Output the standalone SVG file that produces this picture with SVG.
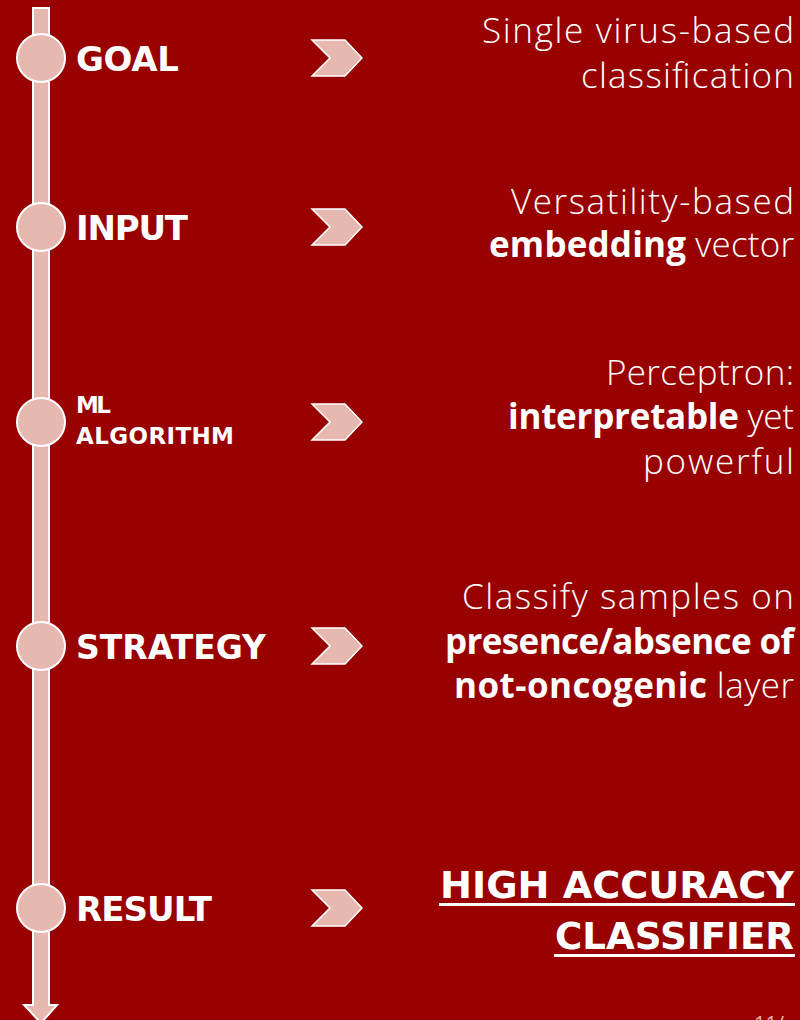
<svg xmlns="http://www.w3.org/2000/svg" width="800" height="1020" viewBox="0 0 800 1020">
  <style>
    .bg { fill: #990000; }
    .pink { fill: #E6B8B0; stroke: #FFFFFF; stroke-width: 2; }
    .chev { fill: #E6B8B0; stroke: #FFFFFF; stroke-width: 1.5; stroke-linejoin: miter; }
    .lbl { font-family: "DejaVu Sans", "Liberation Sans", sans-serif; font-weight: 700; fill: #FFFFFF; font-size: 34px; }
    .lbl-sm { font-family: "DejaVu Sans", "Liberation Sans", sans-serif; font-weight: 700; fill: #FFFFFF; font-size: 23px; }
    .desc { font-family: "Open Sans", "Liberation Sans", sans-serif; font-weight: 300; fill: #FFFFFF; font-size: 35px; text-anchor: end; }
    .b { font-weight: 700; }
    .res { font-family: "DejaVu Sans", "Liberation Sans", sans-serif; font-weight: 700; fill: #FFFFFF; font-size: 38px; text-anchor: end; }
    .ul { fill: #FFFFFF; }
    .pg { font-family: "Open Sans", "Liberation Sans", sans-serif; fill: #E6B8B0; font-size: 20px; }
  </style>
  <defs>
    <path id="chevron" d="M0,-18 H33 L50,0 L33,18 H0 L18,0 Z"/>
  </defs>
  <rect class="bg" x="0" y="0" width="800" height="1020"/>

  <g id="connectors">
    <path class="pink" d="M33,8 H49 V1005 H57 L41,1023 L24,1005 H33 Z"/>
  </g>

  <g id="node-goal">
    <circle class="pink" cx="41" cy="58" r="24"/>
    <text class="lbl" x="76" y="71" textLength="103" lengthAdjust="spacing">GOAL</text>
    <use href="#chevron" class="chev" x="312" y="58"/>
    <text class="desc" x="794" y="43" textLength="312" lengthAdjust="spacing">Single virus-based</text>
    <text class="desc" x="794" y="88" textLength="213" lengthAdjust="spacing">classification</text>
  </g>

  <g id="node-input">
    <circle class="pink" cx="41" cy="227" r="24"/>
    <text class="lbl" x="76" y="240" textLength="112" lengthAdjust="spacing">INPUT</text>
    <use href="#chevron" class="chev" x="312" y="227"/>
    <text class="desc" x="794" y="214" textLength="283" lengthAdjust="spacing">Versatility-based</text>
    <text class="desc" x="794" y="257" textLength="305" lengthAdjust="spacing"><tspan class="b">embedding</tspan> vector</text>
  </g>

  <g id="node-ml">
    <circle class="pink" cx="41" cy="422" r="24"/>
    <text class="lbl-sm" x="76" y="413" textLength="35" lengthAdjust="spacing">ML</text>
    <text class="lbl-sm" x="76" y="444" textLength="158" lengthAdjust="spacing">ALGORITHM</text>
    <use href="#chevron" class="chev" x="312" y="422"/>
    <text class="desc" x="794" y="385" textLength="188" lengthAdjust="spacing">Perceptron:</text>
    <text class="desc" x="794" y="429" textLength="286" lengthAdjust="spacing"><tspan class="b">interpretable</tspan> yet</text>
    <text class="desc" x="794" y="474" textLength="151" lengthAdjust="spacing">powerful</text>
  </g>

  <g id="node-strategy">
    <circle class="pink" cx="41" cy="646" r="24"/>
    <text class="lbl" x="76" y="659" textLength="190" lengthAdjust="spacingAndGlyphs">STRATEGY</text>
    <use href="#chevron" class="chev" x="312" y="646"/>
    <text class="desc" x="794" y="609" textLength="332" lengthAdjust="spacing">Classify samples on</text>
    <text class="desc b" x="794" y="654" textLength="349" lengthAdjust="spacing">presence/absence of</text>
    <text class="desc" x="794" y="698" textLength="340" lengthAdjust="spacing"><tspan class="b">not-oncogenic</tspan> layer</text>
  </g>

  <g id="node-result">
    <circle class="pink" cx="41" cy="908" r="24"/>
    <text class="lbl" x="76" y="921" textLength="136" lengthAdjust="spacing">RESULT</text>
    <use href="#chevron" class="chev" x="312" y="908"/>
    <text class="res" x="794" y="898" textLength="354" lengthAdjust="spacingAndGlyphs">HIGH ACCURACY</text>
    <rect class="ul" x="439" y="903" width="356" height="3"/>
    <text class="res" x="794" y="949" textLength="239" lengthAdjust="spacingAndGlyphs">CLASSIFIER</text>
    <rect class="ul" x="554" y="954" width="241" height="3"/>
  </g>

  <text class="pg" x="754" y="1030">11/</text>
</svg>
